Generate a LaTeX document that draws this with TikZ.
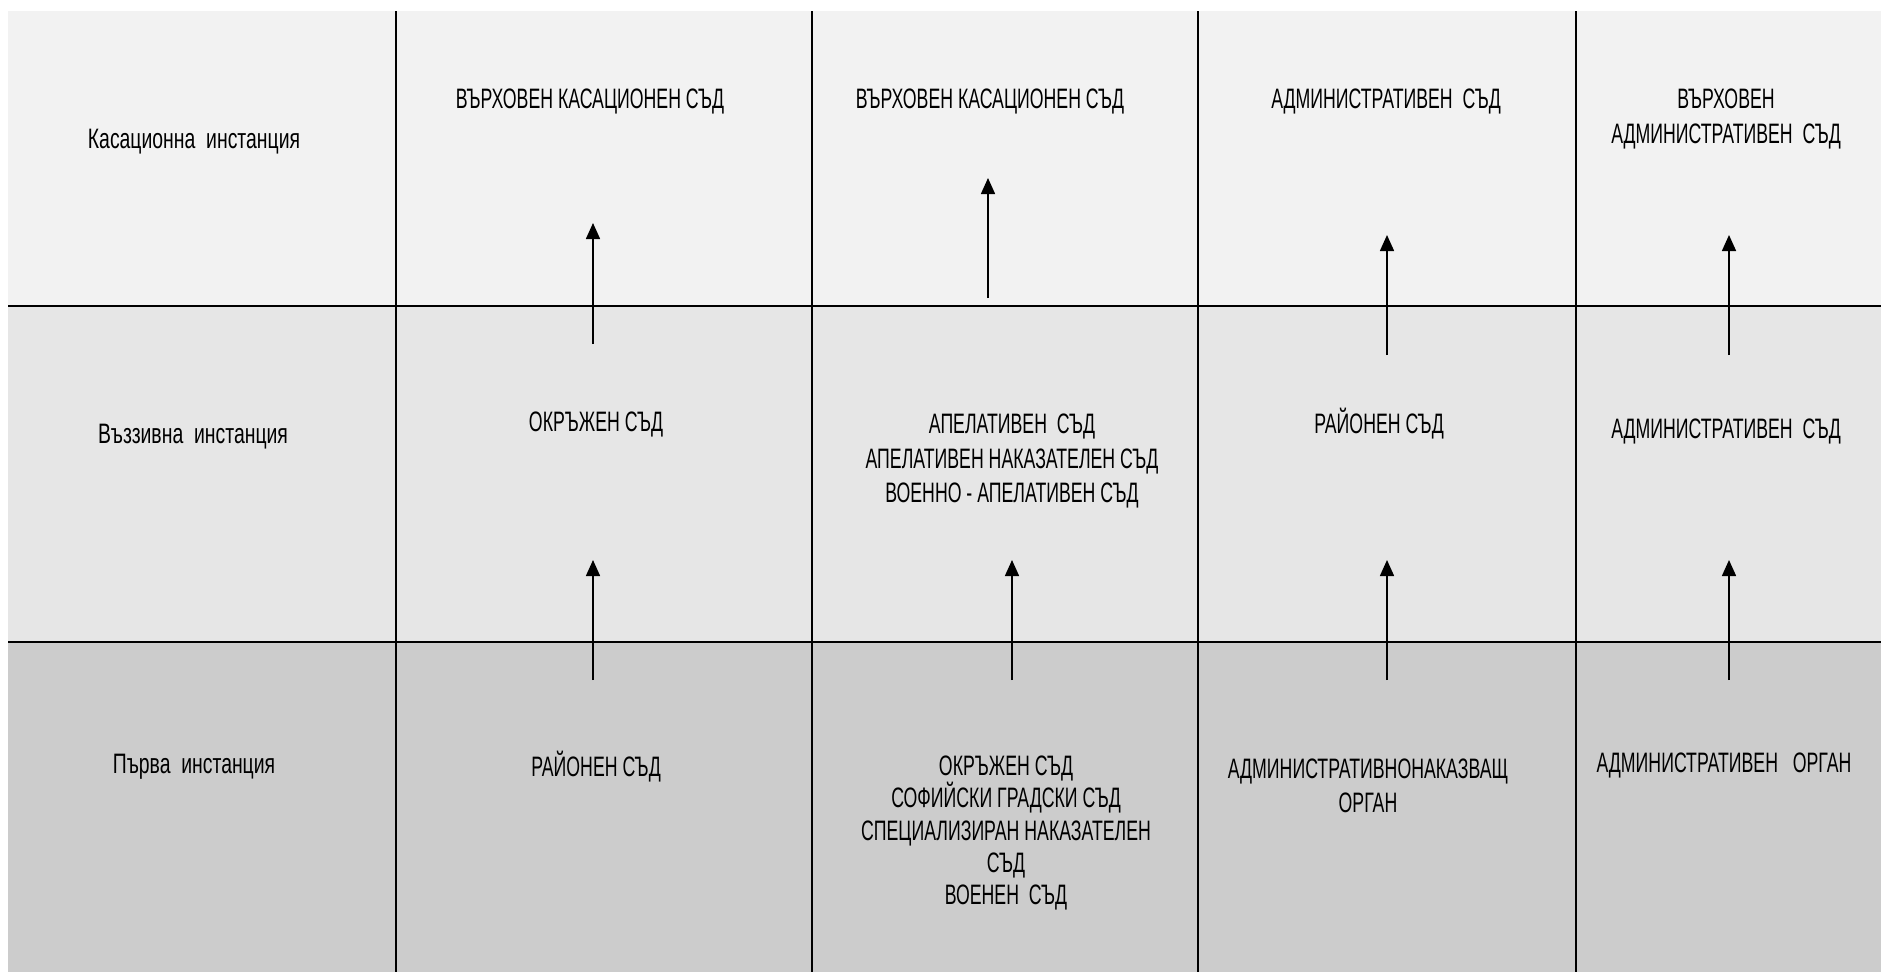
\documentclass[tikz,border=0pt]{standalone}
\usepackage{fontspec}
\setmainfont{Liberation Sans}[FakeStretch=0.63]
\newfontfamily\levelfont{Liberation Sans}[FakeStretch=0.69]
\usetikzlibrary{arrows.meta}

\definecolor{rowtop}{HTML}{F2F2F2}
\definecolor{rowmid}{HTML}{E6E6E6}
\definecolor{rowlow}{HTML}{CCCCCC}

\tikzset{
  court/.style={align=center, inner sep=0pt, font=\fontsize{16}{19.8}\selectfont},
  level/.style={align=center, inner sep=0pt, font=\levelfont\fontsize{16}{19.8}\selectfont},
  rowline/.style={line width=1.1pt},
  colline/.style={line width=0.7pt},
  appeal/.style={line width=0.9pt, ->},
}

\begin{document}
\begin{tikzpicture}[x=0.2mm,y=-0.2mm,>={Triangle[length=3.2mm,width=2.8mm]}]
        \useasboundingbox (0,0) rectangle (1881,972);

        \fill [rowtop] (8,11) rectangle (1881,306);
        \fill [rowmid] (8,306) rectangle (1881,642);
        \fill [rowlow] (8,642) rectangle (1881,972);

        \draw [rowline] (8,306) -- (1881,306);
        \draw [rowline] (8,642) -- (1881,642);
        \draw [colline] (396,11) -- (396,972);
        \draw [colline] (812,11) -- (812,972);
        \draw [colline] (1198,11) -- (1198,972);
        \draw [colline] (1576,11) -- (1576,972);

        \node [level] (lvl1) at (194,142) {Касационна\ \ инстанция};
        \node [level] (lvl2) at (193,437) {Въззивна\ \ инстанция};
        \node [level] (lvl3) at (194,767) {Първа\ \ инстанция};

        \node [court] (vks1) at (590,101) {ВЪРХОВЕН КАСАЦИОНЕН СЪД};
        \node [court] (vks2) at (990,101) {ВЪРХОВЕН КАСАЦИОНЕН СЪД};
        \node [court] (as3) at (1386,101) {АДМИНИСТРАТИВЕН\ \ СЪД};
        \node [court, font=\fontsize{16}{20.4}\selectfont] (vas4) at (1726,119) {ВЪРХОВЕН\\АДМИНИСТРАТИВЕН\ \ СЪД};

        \node [court] (os1) at (596,424) {ОКРЪЖЕН СЪД};
        \node [court] (aps2) at (1012,461) {АПЕЛАТИВЕН\ \ СЪД\\АПЕЛАТИВЕН НАКАЗАТЕЛЕН СЪД\\ВОЕННО - АПЕЛАТИВЕН СЪД};
        \node [court] (rs3) at (1379,424) {РАЙОНЕН СЪД};
        \node [court] (as4) at (1726,431) {АДМИНИСТРАТИВЕН\ \ СЪД};

        \node [court] (rs1) at (596,767) {РАЙОНЕН СЪД};
        \node [court, font=\fontsize{16}{18.4}\selectfont] (os2) at (1006,833) {ОКРЪЖЕН СЪД\\СОФИЙСКИ ГРАДСКИ СЪД\\СПЕЦИАЛИЗИРАН НАКАЗАТЕЛЕН\\СЪД\\ВОЕНЕН\ \ СЪД};
        \node [court, font=\fontsize{16}{19}\selectfont] (ano3) at (1368,786) {АДМИНИСТРАТИВНОНАКАЗВАЩ\\ОРГАН};
        \node [court] (ao4) at (1724,765) {АДМИНИСТРАТИВЕН\ \ \ ОРГАН};

        % arrow ends
        \coordinate (up1a) at (593,344);  \coordinate (up1b) at (593,223);
        \coordinate (up2a) at (988,298);  \coordinate (up2b) at (988,178);
        \coordinate (up3a) at (1387,355); \coordinate (up3b) at (1387,235);
        \coordinate (up4a) at (1729,355); \coordinate (up4b) at (1729,235);
        \coordinate (lo1a) at (593,680);  \coordinate (lo1b) at (593,560);
        \coordinate (lo2a) at (1012,680); \coordinate (lo2b) at (1012,560);
        \coordinate (lo3a) at (1387,680); \coordinate (lo3b) at (1387,560);
        \coordinate (lo4a) at (1729,680); \coordinate (lo4b) at (1729,560);

        \draw [appeal] (up1a) -- (up1b);
        \draw [appeal] (up2a) -- (up2b);
        \draw [appeal] (up3a) -- (up3b);
        \draw [appeal] (up4a) -- (up4b);
        \draw [appeal] (lo1a) -- (lo1b);
        \draw [appeal] (lo2a) -- (lo2b);
        \draw [appeal] (lo3a) -- (lo3b);
        \draw [appeal] (lo4a) -- (lo4b);
\end{tikzpicture}
\end{document}
